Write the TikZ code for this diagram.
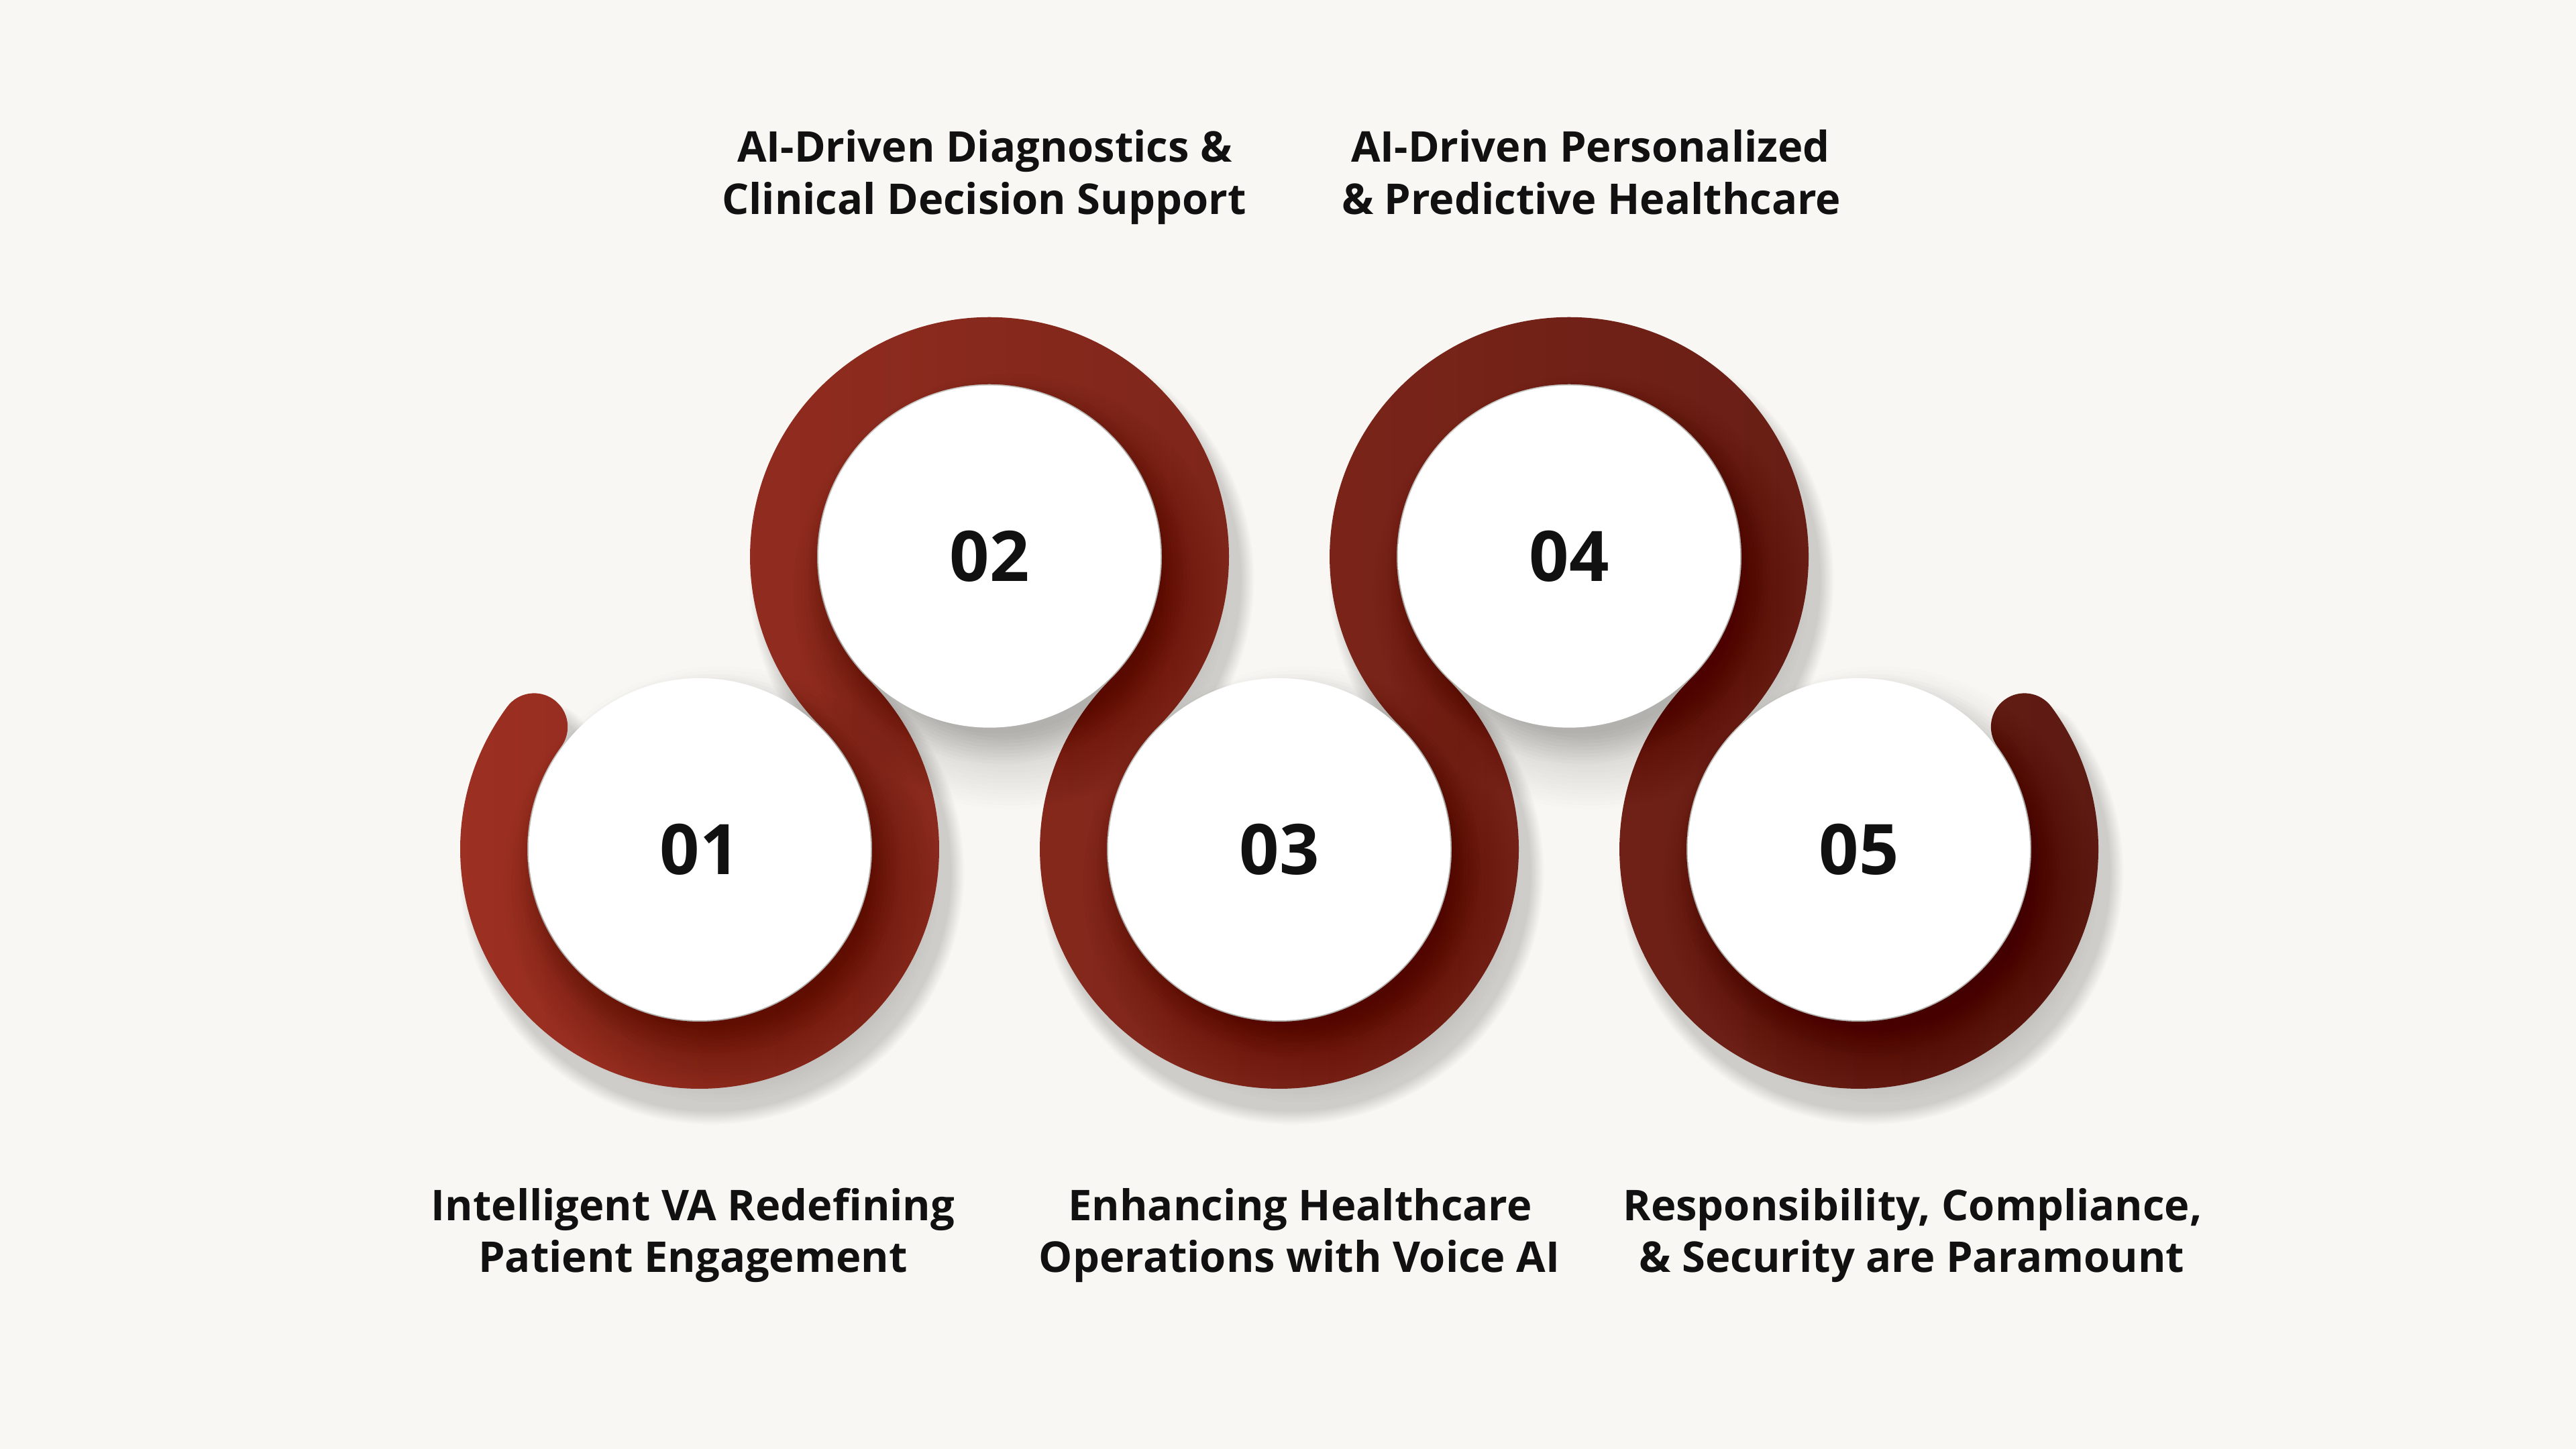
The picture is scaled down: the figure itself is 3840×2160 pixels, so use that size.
\documentclass[tikz,border=0pt]{standalone}
\usepackage{fontspec}
\setmainfont{Open Sans}
\usetikzlibrary{calc}
\definecolor{bg}{HTML}{F8F7F3}
\definecolor{bandL}{HTML}{9D3022}
\definecolor{bandR}{HTML}{5C1A12}
\definecolor{ink}{HTML}{111111}
\pgfdeclareradialshading{wball}{\pgfpoint{-7bp}{7bp}}{color(0bp)=(white); color(36bp)=(white); color(44bp)=(white!97!black); color(52bp)=(white!93!black); color(60bp)=(white!84!black)}
\newcommand\snakeline[2]{($(#11)+(143.5:#2)$) arc[start angle=143.5, end angle=405.28, radius=#2]
 arc[start angle=225.28, end angle=-45.28, radius=#2]
 arc[start angle=134.72, end angle=405.28, radius=#2]
 arc[start angle=225.28, end angle=-45.28, radius=#2]
 arc[start angle=134.72, end angle=396.5, radius=#2]}
\newcommand\bandoutline[1]{($(#11)+(143.5:357)$) arc[start angle=143.5, end angle=405.28, radius=357]
 arc[start angle=225.28, end angle=-45.28, radius=257]
 arc[start angle=134.72, end angle=405.28, radius=357]
 arc[start angle=225.28, end angle=-45.28, radius=257]
 arc[start angle=134.72, end angle=396.5, radius=357]
 arc[start angle=36.5, end angle=216.5, radius=50]
 arc[start angle=396.5, end angle=134.72, radius=257]
 arc[start angle=-45.28, end angle=225.28, radius=357]
 arc[start angle=405.28, end angle=134.72, radius=257]
 arc[start angle=-45.28, end angle=225.28, radius=357]
 arc[start angle=405.28, end angle=143.5, radius=257]
 arc[start angle=-36.5, end angle=143.5, radius=50] -- cycle}
\begin{document}
\begin{tikzpicture}[x=0.25pt,y=0.25pt,
  lab/.style={font=\fontsize{15.8}{19}\selectfont\bfseries, text=ink, anchor=base, inner sep=0pt},
  num/.style={font=\fontsize{26}{30}\selectfont\bfseries, text=ink, inner sep=0pt},
  ball/.style={shading=wball},
  shadowstroke/.style={black, opacity=0.012, line cap=round},
  softshadow/.style={black, opacity=0.007},
  tightshadow/.style={black, opacity=0.010}]
\fill[bg] (0,0) rectangle (3840,2160);
\useasboundingbox (0,0) rectangle (3840,2160);
% centres
\coordinate (c1) at (1043,894);
\coordinate (c2) at (1475,1330.3);
\coordinate (c3) at (1907,894);
\coordinate (c4) at (2339,1330.3);
\coordinate (c5) at (2771,894);
% shadow centres
\foreach \k in {1,...,5}{\coordinate (s\k) at ($(c\k)+(18,-34)$);}
\foreach \k in {1,...,5}{\coordinate (t\k) at ($(c\k)+(32,-52)$);}
\foreach \k in {1,...,5}{\coordinate (u\k) at ($(c\k)+(14,-24)$);}
% shadow of the band
\foreach \i in {0,...,13}{
  \pgfmathsetmacro\lw{(100+\i*3)*0.25}
  \draw[shadowstroke, line width=\lw pt] \snakeline{s}{307};
}
% the band
\shade[left color=bandL, right color=bandR] \bandoutline{c};
% shadows of the discs
\foreach \k in {1,...,5}{
  \foreach \i in {0,...,19}{
    \fill[softshadow] (t\k) circle[radius=220+\i*5.5];
  }
  \foreach \i in {0,...,9}{
    \fill[tightshadow] (u\k) circle[radius=240+\i*5];
  }
}
% white discs
\foreach \k in {1,...,5}{
  \shade[ball] (c\k) circle[radius=255];
}
\node[num] (n1) at (c1) {01};
\node[num] (n2) at (c2) {02};
\node[num] (n3) at (c3) {03};
\node[num] (n4) at (c4) {04};
\node[num] (n5) at (c5) {05};
% labels
\node[lab] (l1a) at (1033,340) {Intelligent VA Redefining};
\node[lab] (l1b) at (1033,263) {Patient Engagement};
\node[lab] (l2a) at (1468,1918) {AI-Driven Diagnostics \&};
\node[lab] (l2b) at (1467,1840) {Clinical Decision Support};
\node[lab] (l3a) at (1938,340) {Enhancing Healthcare};
\node[lab] (l3b) at (1937,263) {Operations with Voice AI};
\node[lab] (l4a) at (2371,1918) {AI-Driven Personalized};
\node[lab] (l4b) at (2372,1840) {\& Predictive Healthcare};
\node[lab] (l5a) at (2851,340) {Responsibility, Compliance,};
\node[lab] (l5b) at (2850,263) {\& Security are Paramount};
\end{tikzpicture}
\end{document}
